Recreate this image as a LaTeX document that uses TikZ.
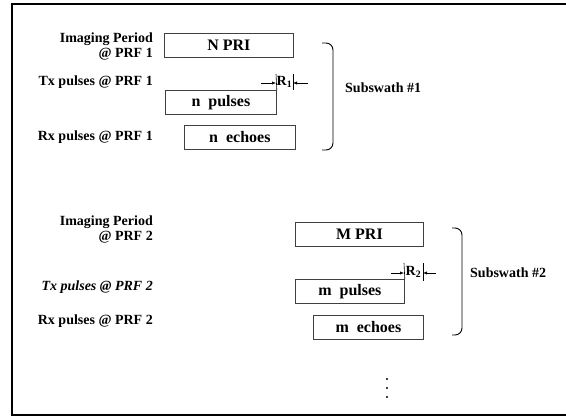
\documentclass[tikz,border=0pt]{standalone}
\usepackage{fontspec}
\setmainfont{Liberation Serif}
\usetikzlibrary{arrows.meta}

\begin{document}
\begin{tikzpicture}[
  x=1pt, y=-1pt,
  txt/.style={font=\fontsize{14}{15}\selectfont\bfseries, inner sep=0pt},
  box/.style={font=\fontsize{16}{18}\selectfont\bfseries, inner sep=0pt,
    draw=black!75, line width=0.8pt, minimum height=24pt, anchor=north west},
  lab/.style={txt, anchor=east, align=right},
  brc/.style={line width=0.9pt, rounded corners=7pt},
  dim/.style={-{Latex[length=4pt,width=3.2pt]}, line width=0.6pt},
  tick/.style={line width=0.6pt}
]
\useasboundingbox (0,0) rectangle (566,416);
% frame, open on the right
\draw[line width=1.2pt] (566,4) -- (12,4) -- (12,415) -- (566,415);

% subswath 1
\node[lab] (img1) at (153,46) {Imaging Period\\@ PRF 1};
\node[lab] (tx1) at (153,82) {Tx pulses @ PRF 1};
\node[lab] (rx1) at (153,137) {Rx pulses @ PRF 1};
\node[box, minimum width=129pt] (npri) at (164,33) {N PRI};
\node[box, minimum width=111pt] (npulses) at (165,90) {n\ \ pulses};
\node[box, minimum width=111pt] (nechoes) at (184,125) {n\ \ echoes};
\node[txt] (r1) at (284.5,82) {R\textsubscript{1}};
\coordinate (r1a) at (276,74);
\coordinate (r1b) at (293,74);
\coordinate (r1c) at (293,90);
\coordinate (r1l) at (261,83);
\coordinate (r1r) at (308,83);
\draw[tick] (npulses.north east) -- (r1a);
\draw[tick] (r1b) -- (r1c);
\draw[dim] (r1l) -- (r1l -| r1a);
\draw[dim] (r1r) -- (r1r -| r1b);
\draw[brc] (322,43) -- (333,43) -- (333,150) -- (322,150);
\node[txt, anchor=west] (sub1) at (345,88) {Subswath \#1};

% subswath 2
\node[lab] (img2) at (153,229) {Imaging Period\\@ PRF 2};
\node[lab, font=\fontsize{14}{15}\selectfont\bfseries\itshape] (tx2) at (153,287) {Tx pulses @ PRF 2};
\node[lab] (rx2) at (153,321) {Rx pulses @ PRF 2};
\node[box, minimum width=128pt] (mpri) at (295,222) {M PRI};
\node[box, minimum width=109pt] (mpulses) at (295,279) {m\ \ pulses};
\node[box, minimum width=110pt] (mechoes) at (313,315) {m\ \ echoes};
\node[txt] (r2) at (413.5,272) {R\textsubscript{2}};
\coordinate (r2a) at (404,263);
\coordinate (r2b) at (423,263);
\coordinate (r2c) at (423,281);
\coordinate (r2l) at (391,273);
\coordinate (r2r) at (436,273);
\draw[tick] (mpulses.north east) -- (r2a);
\draw[tick] (r2b) -- (r2c);
\draw[dim] (r2l) -- (r2l -| r2a);
\draw[dim] (r2r) -- (r2r -| r2b);
\draw[brc] (452,228) -- (462,228) -- (462,335) -- (452,335);
\node[txt, anchor=west] (sub2) at (470,273) {Subswath \#2};

% more subswaths follow
\foreach \y in {379,388,397}
  \fill (387,\y) circle (1.2pt);
\end{tikzpicture}
\end{document}
